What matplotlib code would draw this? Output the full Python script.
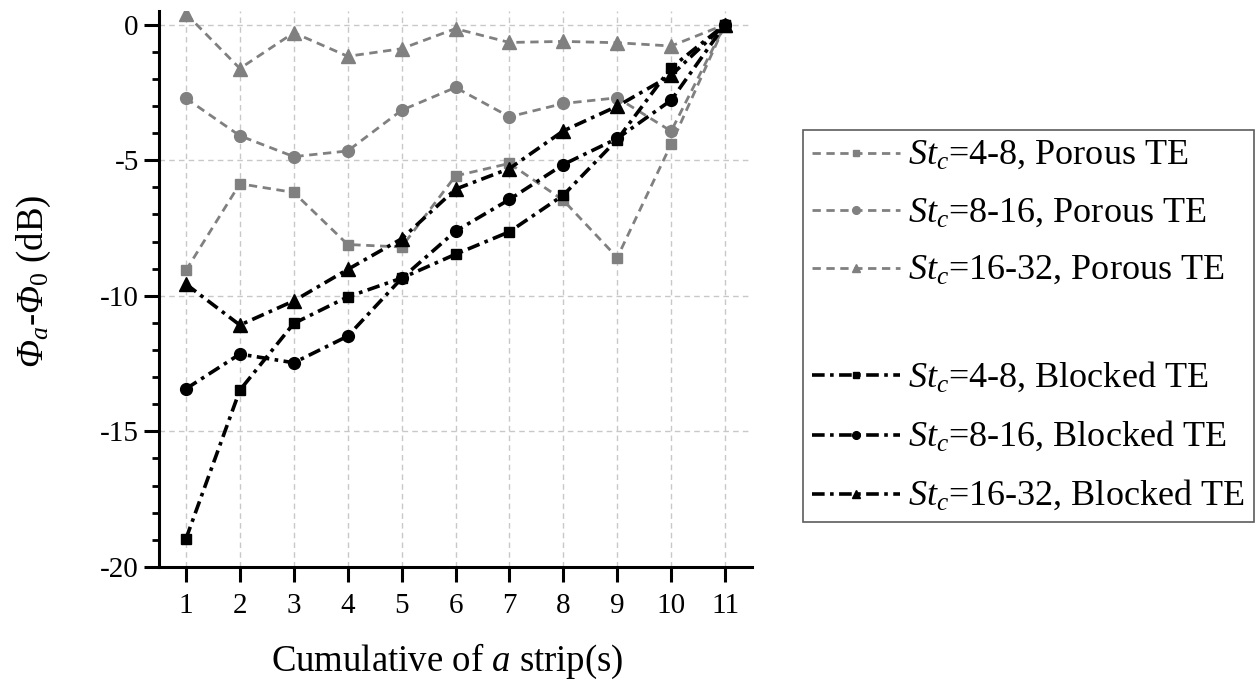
import matplotlib
matplotlib.use("Agg")
import matplotlib.pyplot as plt
from matplotlib.ticker import MultipleLocator

plt.rcParams['font.family'] = ['Liberation Serif', 'DejaVu Serif']
plt.rcParams['mathtext.fontset'] = 'custom'
plt.rcParams['mathtext.rm'] = 'Liberation Serif'
plt.rcParams['mathtext.it'] = 'Liberation Serif:italic'
plt.rcParams['mathtext.sf'] = 'Liberation Serif:italic'
plt.rcParams['axes.unicode_minus'] = False

strips = [1, 2, 3, 4, 5, 6, 7, 8, 9, 10, 11]

porous_4_8 = [-9.06, -5.87, -6.19, -8.11, -8.20, -5.58, -5.12, -6.48, -8.59, -4.41, 0.0]
porous_8_16 = [-2.72, -4.10, -4.87, -4.66, -3.16, -2.32, -3.40, -2.91, -2.70, -3.93, 0.0]
porous_16_32 = [0.40, -1.62, -0.30, -1.17, -0.89, -0.15, -0.66, -0.62, -0.67, -0.79, 0.0]

blocked_4_8 = [-18.96, -13.48, -11.02, -10.04, -9.35, -8.47, -7.64, -6.29, -4.24, -1.59, 0.0]
blocked_8_16 = [-13.43, -12.15, -12.47, -11.49, -9.36, -7.62, -6.45, -5.16, -4.20, -2.79, 0.0]
blocked_16_32 = [-9.57, -11.08, -10.19, -9.03, -7.90, -6.07, -5.31, -3.92, -3.01, -1.87, 0.0]

labels_porous = [r'$St_c$=4-8, Porous TE', r'$St_c$=8-16, Porous TE', r'$St_c$=16-32, Porous TE']
labels_blocked = [r'$St_c$=4-8, Blocked TE', r'$St_c$=8-16, Blocked TE', r'$St_c$=16-32, Blocked TE']

fig = plt.figure(figsize=(12.59, 6.84), dpi=100)
ax = fig.add_axes([0.1263, 0.1711, 0.4710, 0.8128])

gray = '#808080'
pd = (0, (3.0, 2.0))
bd = (0, (3.5, 1.5, 1.0, 1.5))
markers = ['s', 'o', '^']
msizes = [7.5, 8.5, 9.5]
handles = []
for ys, m, ms, lab in zip([porous_4_8, porous_8_16, porous_16_32], markers, msizes, labels_porous):
    h, = ax.plot(strips, ys, color=gray, linestyle=pd, linewidth=2.0, marker=m,
                 markersize=ms, markerfacecolor=gray, markeredgecolor=gray, label=lab, zorder=3)
    handles.append(h)
blank, = ax.plot([], [], color='none', label=' ')
handles.append(blank)
for ys, m, ms, lab in zip([blocked_4_8, blocked_8_16, blocked_16_32], markers, msizes, labels_blocked):
    h, = ax.plot(strips, ys, color='black', linestyle=bd, linewidth=2.6, marker=m,
                 markersize=ms, markerfacecolor='black', markeredgecolor='black', label=lab, zorder=4)
    handles.append(h)

ax.set_xlim(0.5, 11.5)
ax.set_ylim(-20, 0.5)
ax.xaxis.set_major_locator(MultipleLocator(1))
ax.yaxis.set_major_locator(MultipleLocator(5))
ax.yaxis.set_minor_locator(MultipleLocator(1))

ax.grid(True, which='major', color='#c8c8c8', linestyle=(0, (4, 3)), linewidth=1.0)
ax.set_axisbelow(True)

for s in ['top', 'right']:
    ax.spines[s].set_visible(False)
for s in ['left', 'bottom']:
    ax.spines[s].set_linewidth(2.2)

ax.tick_params(axis='both', which='major', direction='out', length=10.5, width=2.2, labelsize=21)
ax.tick_params(axis='y', which='minor', direction='out', length=5, width=2.0)
ax.tick_params(axis='x', which='major', pad=8)
ax.tick_params(axis='y', which='major', pad=4)

ax.set_xlabel(r'Cumulative of $a$ strip(s)', fontsize=26.5)
ax.set_ylabel(r'$\mathsf{Φ}_a$-$\mathsf{Φ}_0$ (dB)', fontsize=26.5)
ax.xaxis.set_label_coords(0.486, -0.135)
ax.yaxis.set_label_coords(-0.178, 0.514)

leg = fig.legend(handles=handles, loc='upper left', bbox_to_anchor=(802.7 / 1259, 1 - 129.7 / 684),
                 fontsize=26, frameon=True, fancybox=False, edgecolor='#333333',
                 handlelength=2.45, handleheight=0.4, handletextpad=0.22, markerscale=0.65,
                 borderpad=0.25, labelspacing=0.68, borderaxespad=0)
leg.get_frame().set_linewidth(1.2)
leg.get_texts()[3].set_fontsize(8)

fig.savefig('out.png', dpi=100)
